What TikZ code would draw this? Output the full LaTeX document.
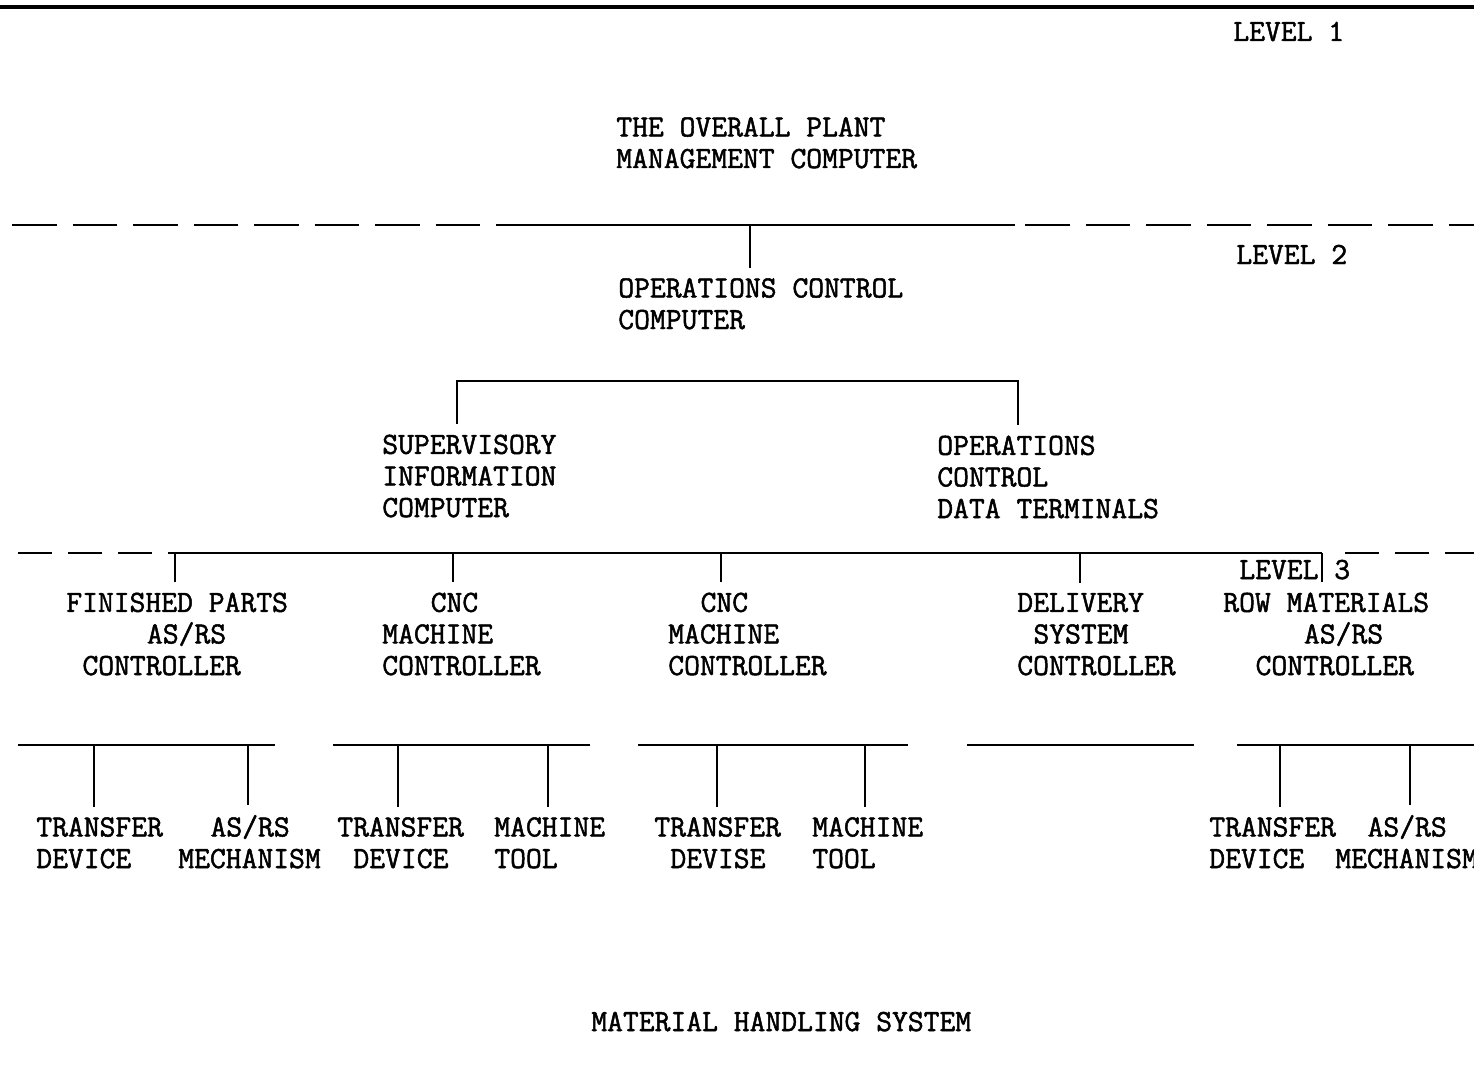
\documentclass[tikz,border=0pt]{standalone}
\usepackage{fontspec}
\newfontfamily\typefont{Latin Modern Mono}[FakeBold=1.6]
\begin{document}
\begin{tikzpicture}[x=0.38pt, y=-0.38pt, line width=1pt,
  lbl/.style={anchor=base west, inner sep=0pt, align=left, font=\typefont\fontsize{11.68}{12}\selectfont},
  tap/.style={shorten >=3.5pt},
  dsha/.style={dash pattern=on 17pt off 6pt},
  dshb/.style={dash pattern=on 13pt off 6pt}]
\useasboundingbox (0,0) rectangle (1474,1066);
\node[lbl] (lvl1) at (1232,41){LEVEL 1};
\node[lbl] (plant) at (615,168){THE OVERALL PLANT\\MANAGEMENT COMPUTER};
\node[lbl] (lvl2) at (1235,264){LEVEL 2};
\node[lbl] (opc) at (617,329){OPERATIONS CONTROL\\COMPUTER};
\node[lbl] (sic) at (381,517){SUPERVISORY\\INFORMATION\\COMPUTER};
\node[lbl] (odt) at (936,518){OPERATIONS\\CONTROL\\DATA TERMINALS};
\node[lbl] (lvl3) at (1238,579){LEVEL 3};
\node[lbl] (fpc) at (65,675){FINISHED PARTS\\\hspace*{2.625em}AS/RS\\\hspace*{.525em}CONTROLLER};
\node[lbl] (cnc1) at (381,675){\hspace*{1.575em}CNC\\MACHINE\\CONTROLLER};
\node[lbl] (cnc2) at (667,675){\hspace*{1.05em}CNC\\MACHINE\\CONTROLLER};
\node[lbl] (dsc) at (1016,675){DELIVERY\\\hspace*{.525em}SYSTEM\\CONTROLLER};
\node[lbl] (rmc) at (1222,675){ROW MATERIALS\\\hspace*{2.625em}AS/RS\\\hspace*{1.05em}CONTROLLER};
\node[lbl] (td1) at (35,868){TRANSFER\\DEVICE};
\node[lbl] (am1) at (177,868){\hspace*{1.05em}AS/RS\\MECHANISM};
\node[lbl] (td2) at (336,868){TRANSFER\\\hspace*{.525em}DEVICE};
\node[lbl] (mt1) at (493,868){MACHINE\\TOOL};
\node[lbl] (td3) at (653,868){TRANSFER\\\hspace*{.525em}DEVISE};
\node[lbl] (mt2) at (811,868){MACHINE\\TOOL};
\node[lbl] (td4) at (1208,868){TRANSFER\\DEVICE};
\node[lbl] (am2) at (1334,868){\hspace*{1.05em}AS/RS\\MECHANISM};
\node[lbl] (mhs) at (590,1031){MATERIAL HANDLING SYSTEM};
% level boundaries
\draw[line width=1.3pt] (0,7) -- (1474,7);
\draw[dsha] (12,225) -- (503,225);
\draw[] (503,225) -- (1015,225);
\draw[dsha] (1025,225) -- (1474,225);
\coordinate (t0) at (750,225);
\draw[tap] (t0) -- (t0 |- opc.north);
\coordinate (b1) at (457,381);
\coordinate (b2) at (1018,381);
\draw[tap, shorten <=3.5pt] (b1 |- sic.north) -- (b1) -- (b2) -- (b2 |- odt.north);
\draw[dshb] (18,553) -- (175,553);
\draw[] (175,553) -- (1322,553);
\draw[dshb] (1345,553) -- (1474,553);
\coordinate (t1) at (175,553);
\coordinate (t2) at (453,553);
\coordinate (t3) at (721,553);
\coordinate (t4) at (1080,553);
\coordinate (t5) at (1322,553);
\draw[tap](t1) -- (t1 |- fpc.north);
\draw[tap](t2) -- (t2 |- cnc1.north);
\draw[tap](t3) -- (t3 |- cnc2.north);
\draw[tap](t4) -- (t4 |- dsc.north);
\draw[tap](t5) -- (t5 |- rmc.north);
% device buses
\coordinate (s1) at (18,745);
\coordinate (e1) at (275,745);
\coordinate (s2) at (333,745);
\coordinate (e2) at (590,745);
\coordinate (s3) at (638,745);
\coordinate (e3) at (908,745);
\coordinate (s4) at (967,745);
\coordinate (e4) at (1194,745);
\coordinate (s5) at (1237,745);
\coordinate (e5) at (1474,745);
\draw[](s1) -- (e1);
\draw[](s2) -- (e2);
\draw[](s3) -- (e3);
\draw[](s4) -- (e4);
\draw[](s5) -- (e5);
\coordinate (d1) at (94,745);
\coordinate (d2) at (248,745);
\coordinate (d3) at (398,745);
\coordinate (d4) at (548,745);
\coordinate (d5) at (717,745);
\coordinate (d6) at (865,745);
\coordinate (d7) at (1280,745);
\coordinate (d8) at (1410,745);
\draw[tap](d1) -- (d1 |- td1.north);
\draw[tap](d2) -- (d2 |- am1.north);
\draw[tap](d3) -- (d3 |- td2.north);
\draw[tap](d4) -- (d4 |- mt1.north);
\draw[tap](d5) -- (d5 |- td3.north);
\draw[tap](d6) -- (d6 |- mt2.north);
\draw[tap](d7) -- (d7 |- td4.north);
\draw[tap](d8) -- (d8 |- am2.north);
\end{tikzpicture}
\end{document}
